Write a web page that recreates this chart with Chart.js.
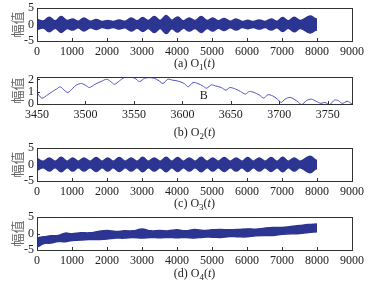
<!DOCTYPE html>
<html>
<head>
<meta charset="utf-8">
<script src="https://cdn.jsdelivr.net/npm/chart.js@4.4.1/dist/chart.umd.min.js"></script>
<style>
  body { margin: 0; background: #fff; }
  #wrap { position: relative; width: 375px; height: 289px; overflow: hidden; background: #fff; }
  #wrap canvas { position: absolute; left: 0; }
  .cap { position: absolute; left: 37px; width: 315px; text-align: center; font: 12px 'Liberation Serif', serif; color: #222; line-height: 14px; }
  .cap sub { font-size: 9px; vertical-align: -3px; line-height: 0; }
</style>
</head>
<body>
<div id="wrap">
  <canvas id="ca" width="375" height="60" style="top:0px"></canvas>
  <div class="cap" style="top:56px">(a) O<sub>1</sub>(<i>t</i>)</div>
  <canvas id="cb" width="375" height="50" style="top:70px"></canvas>
  <div class="cap" style="top:125px">(b) O<sub>2</sub>(<i>t</i>)</div>
  <canvas id="cc" width="375" height="60" style="top:140px"></canvas>
  <div class="cap" style="top:196px">(c) O<sub>3</sub>(<i>t</i>)</div>
  <canvas id="cd" width="375" height="60" style="top:210px"></canvas>
  <div class="cap" style="top:266px">(d) O<sub>4</sub>(<i>t</i>)</div>
</div>
<script>
// envelope sample positions (peaks / troughs of the beating) for O1 and O3
const tEnv = [0, 180, 350, 520, 690, 860, 1020, 1180, 1340, 1520, 1690, 1860, 2020, 2180, 2350, 2520,
  2690, 2860, 3020, 3180, 3350, 3520, 3690, 3850, 4020, 4180, 4350, 4520, 4690, 4860, 5020, 5180,
  5350, 5520, 5690, 5860, 6020, 6180, 6350, 6520, 6690, 6860, 7020, 7180, 7350, 7520, 7800, 7950, 8000];
// half-width of the O1 band
const ampA = [1.5, 1.1, 2.2, 1.1, 2.4, 1.2, 1.7, 1.0, 2.0, 1.0, 1.5, 0.9, 1.2, 0.9, 1.4, 1.0,
  2.0, 1.1, 2.1, 1.2, 2.4, 1.2, 2.7, 1.3, 2.3, 1.1, 2.0, 1.2, 2.4, 1.2, 2.0, 1.1,
  1.8, 1.0, 1.7, 0.9, 1.3, 0.9, 1.4, 0.9, 1.7, 1.0, 2.1, 1.1, 2.2, 1.2, 2.6, 1.8, 1.6];
// half-width of the O3 band
const ampC = [1.8, 1.0, 2.0, 1.0, 2.2, 1.0, 2.0, 1.0, 2.0, 1.0, 2.1, 1.0, 2.0, 1.0, 2.1, 1.0,
  2.0, 1.0, 2.2, 1.0, 2.0, 1.0, 2.2, 1.0, 2.1, 1.0, 2.0, 1.0, 2.2, 1.0, 2.0, 1.0,
  2.1, 1.0, 2.0, 1.0, 2.1, 1.0, 2.0, 1.0, 2.1, 1.0, 2.2, 1.0, 2.0, 1.0, 2.5, 1.4, 1.2];

// O4: drifting centre line and band half-width
const tD = [0, 60, 200, 400, 600, 800, 1000, 1250, 1500, 1750, 2000, 2250, 2500, 2750, 3000, 3250, 3500,
  3750, 4000, 4250, 4500, 4750, 5000, 5250, 5500, 5750, 6000, 6250, 6500, 6750, 7000, 7250, 7500, 7750, 8000];
const midD = [-2.9, -2.5, -2.0, -1.8, -1.5, -1.2, -1.1, -0.9, -0.8, -0.6, -0.4, -0.4, -0.3, -0.2, 0.0, -0.2, -0.2,
  -0.2, -0.1, -0.2, -0.1, -0.1, 0.0, 0.0, 0.1, 0.1, 0.2, 0.3, 0.5, 0.6, 0.8, 1.0, 1.2, 1.5, 1.7];
const ampD = [1.2, 1.3, 1.0, 1.1, 0.9, 1.3, 1.0, 1.1, 1.0, 1.2, 1.3, 1.0, 1.1, 1.0, 1.4, 1.0, 1.1,
  1.0, 1.2, 1.0, 1.3, 1.0, 1.1, 1.2, 1.0, 1.1, 1.2, 1.0, 1.1, 1.2, 1.0, 1.1, 1.2, 1.2, 1.2];

// O2 zoomed segment
const tB = [3450, 3455, 3461, 3466, 3470, 3474, 3478, 3482, 3487, 3491, 3496, 3501, 3504, 3510, 3516, 3522,
  3526, 3530, 3535, 3540, 3546, 3551, 3556, 3561, 3566, 3571, 3576, 3580, 3585, 3590, 3595, 3602,
  3606, 3611, 3616, 3621, 3625, 3630, 3634, 3640, 3645, 3649, 3655, 3660, 3665, 3669, 3674, 3679,
  3684, 3688, 3693, 3698, 3702, 3706, 3711, 3715, 3720, 3723, 3728, 3733, 3738, 3743, 3747, 3752,
  3757, 3761, 3765, 3770, 3775];
const yB = [0.94, 0.48, 0.75, 1.02, 1.21, 1.40, 1.13, 0.94, 1.29, 1.56, 1.67, 1.48, 1.34, 1.61, 1.83, 2.02,
  1.83, 1.61, 1.88, 2.15, 2.2, 2.1, 1.83, 2.1, 2.15, 2.1, 1.88, 1.67, 2.02, 1.94, 1.88, 1.67,
  1.40, 1.75, 1.67, 1.48, 1.29, 1.56, 1.48, 1.34, 1.13, 1.34, 1.21, 1.02, 0.81, 1.02, 0.94, 0.75,
  0.48, 0.75, 0.67, 0.40, 0.13, 0.40, 0.54, 0.40, 0.13, -0.05, 0.27, 0.40, 0.22, 0.05, 0.13, -0.05,
  0.32, 0.27, 0.05, 0.22, 0.0];
const labelB = { x: 3622, y: 0.65, text: "B" };

const xTicksFull = [0, 1000, 2000, 3000, 4000, 5000, 6000, 7000, 8000, 9000];
const yTicksAmp = [-5, 0, 5];
const xTicksB = [3450, 3500, 3550, 3600, 3650, 3700, 3750];
const yTicksB = [0, 1, 2];
const yTitle = "幅值";

const NAVY = "#2c3592";
const LINE = "#4f52c2";

Chart.defaults.font.family = "'Liberation Serif', serif";
Chart.defaults.color = "#222";

// box around the plot + inward tick marks (matlab look)
const framePlugin = {
  id: "frame",
  afterDraw(chart, args, opts) {
    const { ctx, chartArea: a, scales } = chart;
    ctx.save();
    ctx.strokeStyle = "#333";
    ctx.lineWidth = 1;
    ctx.strokeRect(Math.round(a.left) + 0.5, Math.round(a.top) + 0.5,
      Math.round(a.right - a.left), Math.round(a.bottom - a.top));
    ctx.beginPath();
    scales.x.ticks.forEach(t => {
      const px = Math.round(scales.x.getPixelForValue(t.value)) + 0.5;
      ctx.moveTo(px, a.bottom);
      ctx.lineTo(px, a.bottom - 3);
    });
    scales.y.ticks.forEach(t => {
      const py = Math.round(scales.y.getPixelForValue(t.value)) + 0.5;
      ctx.moveTo(a.left, py);
      ctx.lineTo(a.left + 3, py);
    });
    ctx.stroke();
    if (opts && opts.mark) {
      ctx.fillStyle = "#222";
      ctx.font = "12px 'Liberation Serif', serif";
      ctx.textAlign = "center";
      ctx.textBaseline = "middle";
      ctx.fillText(opts.mark.text, scales.x.getPixelForValue(opts.mark.x), scales.y.getPixelForValue(opts.mark.y));
    }
    ctx.restore();
  }
};

function axes(xMin, xMax, xTicks, yMin, yMax, yTicks, xH) {
  return {
    x: {
      type: "linear", min: xMin, max: xMax,
      afterBuildTicks: s => { s.ticks = xTicks.map(v => ({ value: v })); },
      afterFit: s => { s.height = xH; s.paddingLeft = 0; s.paddingRight = 0; },
      grid: { display: false, drawTicks: false },
      border: { display: false },
      ticks: { padding: 4, color: "#222", font: { size: 12 }, maxRotation: 0, autoSkip: false, callback: v => String(v) }
    },
    y: {
      type: "linear", min: yMin, max: yMax,
      afterBuildTicks: s => { s.ticks = yTicks.map(v => ({ value: v })); },
      afterFit: s => { s.width = 37; s.paddingTop = 0; s.paddingBottom = 0; },
      grid: { display: false, drawTicks: false },
      border: { display: false },
      ticks: { padding: 3, color: "#222", font: { size: 12 }, autoSkip: false, callback: v => String(v) },
      title: { display: true, text: yTitle, color: "#666", font: { family: "'Noto Sans CJK SC'", size: 13 }, padding: { top: 9, bottom: 0 } }
    }
  };
}

function band(t, lo, hi) {
  const common = { borderColor: NAVY, backgroundColor: NAVY, borderWidth: 1.5, pointRadius: 0, tension: 0.4 };
  return [
    Object.assign({ data: t.map((v, i) => ({ x: v, y: hi[i] })), fill: false }, common),
    Object.assign({ data: t.map((v, i) => ({ x: v, y: lo[i] })), fill: "-1" }, common)
  ];
}

function makeChart(id, datasets, scales, top, mark) {
  return new Chart(document.getElementById(id), {
    type: "line",
    data: { datasets: datasets },
    options: {
      responsive: false, animation: false, devicePixelRatio: 1,
      layout: { padding: { left: 0, right: 23, top: top, bottom: 0 } },
      plugins: { legend: { display: false }, tooltip: { enabled: false }, frame: { mark: mark } },
      scales: scales
    },
    plugins: [framePlugin]
  });
}

makeChart("ca", band(tEnv, ampA.map(v => -v), ampA), axes(0, 9000, xTicksFull, -5, 5, yTicksAmp, 19), 8);

makeChart("cb", [{
  data: tB.map((v, i) => ({ x: v, y: yB[i] })),
  borderColor: LINE, borderWidth: 1, pointRadius: 0, tension: 0.3, fill: false
}], axes(3450, 3775, xTicksB, 0, 2.2, yTicksB, 16), 7, labelB);

makeChart("cc", band(tEnv, ampC.map(v => -v), ampC), axes(0, 9000, xTicksFull, -5, 5, yTicksAmp, 19), 8);

makeChart("cd", band(tD, midD.map((m, i) => m - ampD[i]), midD.map((m, i) => m + ampD[i])),
  axes(0, 9000, xTicksFull, -5, 5, yTicksAmp, 20), 7);
</script>
</body>
</html>
